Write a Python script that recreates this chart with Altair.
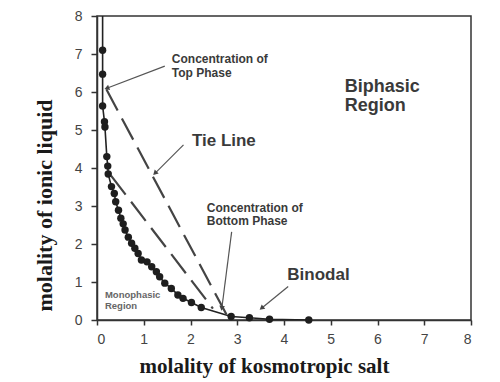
import math
import altair as alt
import pandas as pd

# Binodal data points (kosmotropic salt molality, ionic liquid molality)
bin_x = [0.12, 0.12, 0.12, 0.16, 0.17, 0.21, 0.23, 0.24, 0.31, 0.37, 0.40, 0.46,
         0.51, 0.56, 0.60, 0.67, 0.74, 0.81, 0.88, 0.95, 1.07, 1.17, 1.27, 1.34,
         1.45, 1.59, 1.73, 1.84, 2.02, 2.23, 2.87, 3.26, 3.69, 4.53]
bin_y = [7.10, 6.47, 5.63, 5.22, 5.08, 4.30, 4.05, 3.84, 3.51, 3.33, 3.11, 2.89,
         2.68, 2.53, 2.37, 2.18, 2.02, 1.89, 1.75, 1.58, 1.53, 1.40, 1.27, 1.14,
         0.97, 0.83, 0.66, 0.57, 0.46, 0.33, 0.09, 0.06, 0.02, 0.00]
# curve continues to the top of the plot
ext_x = [0.12]
ext_y = [8.0]

# Tie lines (start -> end)
tie_id = ["outer", "outer", "inner", "inner"]
tie_x = [0.20, 2.78, 0.30, 2.48]
tie_y = [6.07, 0.12, 3.80, 0.30]

# Annotation arrows (tail -> tip)
arr_id = ["top", "tie", "bottom", "binodal"]
arr_x0 = [1.45, 1.85, 2.88, 4.09]
arr_y0 = [6.68, 4.61, 2.32, 0.88]
arr_x1 = [0.21, 1.24, 2.67, 3.52]
arr_y1 = [6.10, 3.86, 0.31, 0.31]

# Text annotations
ann_text = ["Concentration of", "Top Phase", "Biphasic", "Region", "Tie Line",
            "Concentration of", "Bottom Phase", "Binodal", "Monophasic", "Region"]
ann_x = [1.60, 1.60, 5.30, 5.30, 2.03, 2.35, 2.35, 4.07, 0.17, 0.17]
ann_y = [6.86, 6.51, 6.14, 5.62, 4.71, 2.96, 2.61, 1.18, 0.67, 0.37]
ann_size = [12, 12, 18, 18, 17, 12, 12, 17, 9.5, 9.5]
ann_color = ["#3a3a3a"] * 8 + ["#666666"] * 2

W, H = 374, 304
XMAX, YMAX = 8, 8
TICKS = list(range(0, 9))

xs = alt.Scale(domain=[0, XMAX], nice=False)
ys = alt.Scale(domain=[0, YMAX], nice=False)

pts = pd.DataFrame({"x": bin_x, "y": bin_y})
curve = pd.DataFrame({"x": ext_x + bin_x, "y": ext_y + bin_y,
                      "o": list(range(len(bin_x) + 1))})
ties = pd.DataFrame({"id": tie_id, "x": tie_x, "y": tie_y})
arrows = pd.DataFrame({"id": arr_id, "x": arr_x0, "y": arr_y0,
                       "x2": arr_x1, "y2": arr_y1})
ang = []
for a, b, c, d in zip(arr_x0, arr_y0, arr_x1, arr_y1):
    dx = (c - a) * W / XMAX
    dy = -(d - b) * H / YMAX
    ang.append(math.degrees(math.atan2(dx, -dy)) % 360)
heads = pd.DataFrame({"x": arr_x1, "y": arr_y1, "ang": ang})
ann = pd.DataFrame({"t": ann_text, "x": ann_x, "y": ann_y,
                    "s": ann_size, "c": ann_color})

x_axis = alt.Axis(values=TICKS, tickCount=9, labelOverlap=False,
                  title="molality of kosmotropic salt",
                  titleFont="Liberation Serif", titleFontSize=21, titleFontWeight="bold",
                  titleColor="#1a1a1a", titleX=167, titleY=46, titleBaseline="middle",
                  titleAlign="center", tickSize=5, labelPadding=7)
y_axis = alt.Axis(values=TICKS, tickCount=9, labelOverlap=False,
                  title="molality of ionic liquid",
                  titleFont="Liberation Serif", titleFontSize=22, titleFontWeight="bold",
                  titleColor="#1a1a1a", titleX=-53, titleY=189, titleAngle=270,
                  titleBaseline="middle", titleAlign="center", tickSize=6, labelPadding=9)


def X(f="x"):
    return alt.X(f"{f}:Q", scale=xs, axis=x_axis)


def Y(f="y"):
    return alt.Y(f"{f}:Q", scale=ys, axis=y_axis)


base_line = alt.Chart(curve).mark_line(color="#222222", strokeWidth=1.6, clip=True).encode(
    x=X(), y=Y(), order="o:Q",
)
dots = alt.Chart(pts).mark_circle(color="#1e1e1e", opacity=1, size=55).encode(
    x=X(), y=Y()
)
tie = alt.Chart(ties).mark_line(color="#444444", strokeWidth=2.2, strokeDash=[24, 9]).encode(
    x=X(), y=Y(), detail="id:N"
)
arr = alt.Chart(arrows).mark_rule(color="#555555", strokeWidth=1.2).encode(
    x=X(), y=Y(), x2="x2:Q", y2="y2:Q"
)
head = alt.Chart(heads).mark_point(shape="triangle-up", filled=True, color="#444444",
                                    size=32, opacity=1).encode(
    x=X(), y=Y(), angle=alt.Angle("ang:Q", scale=None)
)
txt = alt.Chart(ann).mark_text(align="left", baseline="middle", font="Liberation Sans",
                               fontWeight="bold").encode(
    x=X(), y=Y(), text="t:N",
    size=alt.Size("s:Q", scale=None), color=alt.Color("c:N", scale=None)
)

chart = alt.layer(base_line, tie, arr, head, dots, txt).properties(
    width=W, height=H,
    autosize=alt.AutoSizeParams(type="none"),
    padding={"left": 89, "top": 8, "right": 21, "bottom": 58},
).configure_view(stroke="#333333", strokeWidth=1.5).configure_axis(
    grid=False, domainColor="#333333", domainWidth=1.5, tickColor="#333333",
    tickWidth=1.5, labelFont="Liberation Sans", labelFontSize=14, labelColor="#444444",
)

chart.save("out.html", embed_options={"renderer": "svg", "actions": False})
